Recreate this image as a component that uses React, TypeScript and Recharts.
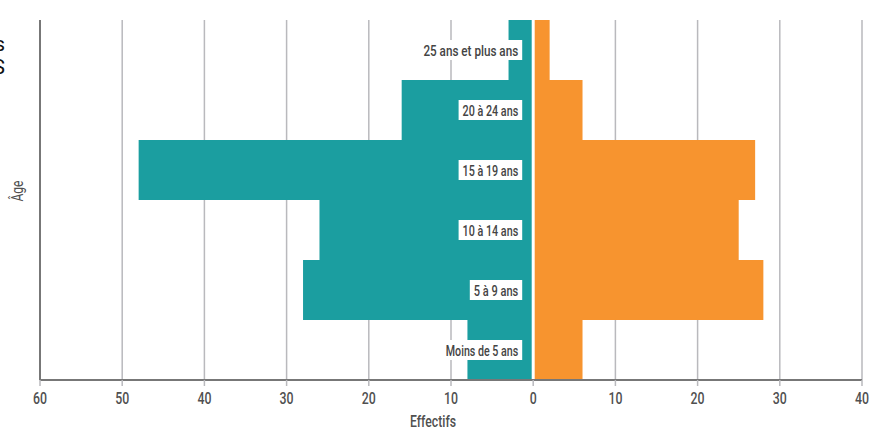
import { BarChart, Bar, XAxis, YAxis, CartesianGrid, ReferenceLine, LabelList } from 'recharts'

const ageGroups = ['25 ans et plus ans', '20 à 24 ans', '15 à 19 ans', '10 à 14 ans', '5 à 9 ans', 'Moins de 5 ans']
const leftValues = [3, 16, 48, 26, 28, 8]
const rightValues = [2, 6, 27, 25, 28, 6]
const xTicks = [-60, -50, -40, -30, -20, -10, 0, 10, 20, 30, 40]

const rows = ageGroups.map((age, i) => ({
  age,
  left: -leftValues[i],
  right: rightValues[i],
}))

// no condensed face installed, so Roboto gets squeezed with textLength
const FONT = 'Roboto, sans-serif'
const TEXT = '#505050'

// label sitting on the zero line, with a white box behind it
function AgeLabel(props: any) {
  const vb = props.viewBox ?? props
  const x = Number(vb.x)
  const w = Number(vb.width)
  const zero = Math.max(x, x + w)
  const midY = Number(vb.y) + Number(vb.height) / 2
  const text = String(props.value)
  const boxW = text.length * 5.6 + 2
  const right = zero - 11
  return (
    <g>
      <rect x={right - boxW} y={midY - 10} width={boxW} height={20} fill="#fff" />
      <text
        x={right - 4}
        y={midY + 1}
        textAnchor="end"
        dominantBaseline="central"
        fontFamily={FONT}
        fontSize={15}
        fontWeight={500}
        fill="#444"
        textLength={text.length * 5.6 - 6}
        lengthAdjust="spacingAndGlyphs"
      >
        {text}
      </text>
    </g>
  )
}

function XTick(props: any) {
  const { x, y, payload } = props
  const label = String(Math.abs(payload.value))
  return (
    <text
      x={x}
      y={y + 10}
      textAnchor="middle"
      dominantBaseline="central"
      fontFamily={FONT}
      fontSize={17}
      fontWeight={500}
      fill={TEXT}
      textLength={label.length * 7}
      lengthAdjust="spacingAndGlyphs"
    >
      {label}
    </text>
  )
}

export default function App() {
  return (
    <div style={{ position: 'relative', width: 870, height: 430, overflow: 'hidden' }}>
      <style>{`body { margin: 0; }`}</style>
      {/* title cut off by the frame */}
      <div
        style={{
          position: 'absolute',
          left: -200,
          top: 33,
          width: 205,
          textAlign: 'right',
          fontFamily: FONT,
          fontSize: 21,
          lineHeight: '23px',
          color: '#111',
        }}
      >
        s<br />S
      </div>
      <BarChart
        width={870}
        height={430}
        data={rows}
        layout="vertical"
        stackOffset="sign"
        barCategoryGap={0}
        margin={{ top: 20, right: 8, bottom: 0, left: 0 }}
      >
        <CartesianGrid horizontal={false} stroke="#b9b9bd" strokeWidth={1.5} />
        <XAxis
          type="number"
          domain={[-60, 40]}
          ticks={xTicks}
          interval={0}
          height={50}
          tick={<XTick />}
          tickLine={{ stroke: '#b9b9bd', strokeWidth: 1.5 }}
          tickSize={6}
          axisLine={{ stroke: '#777', strokeWidth: 2 }}
          label={{
            content: () => (
              <text
                x={433}
                y={421}
                textAnchor="middle"
                dominantBaseline="central"
                fontFamily={FONT}
                fontSize={17}
                fontWeight={500}
                fill={TEXT}
                textLength={46}
                lengthAdjust="spacingAndGlyphs"
              >
                Effectifs
              </text>
            ),
          }}
        />
        <YAxis
          type="category"
          dataKey="age"
          width={40}
          tick={false}
          tickLine={false}
          axisLine={{ stroke: '#777', strokeWidth: 2 }}
          label={{
            content: () => (
              <text
                x={17}
                y={191}
                transform="rotate(-90 17 191)"
                textAnchor="middle"
                dominantBaseline="central"
                fontFamily={FONT}
                fontSize={16}
                fill={TEXT}
                textLength={21}
                lengthAdjust="spacingAndGlyphs"
              >
                Âge
              </text>
            ),
          }}
        />
        <Bar dataKey="left" stackId="a" fill="#1b9ea0" isAnimationActive={false}>
          <LabelList dataKey="age" content={AgeLabel} />
        </Bar>
        <Bar dataKey="right" stackId="a" fill="#f7942f" isAnimationActive={false} />
        <ReferenceLine x={0} stroke="#fff" strokeWidth={3} />
      </BarChart>
    </div>
  )
}
